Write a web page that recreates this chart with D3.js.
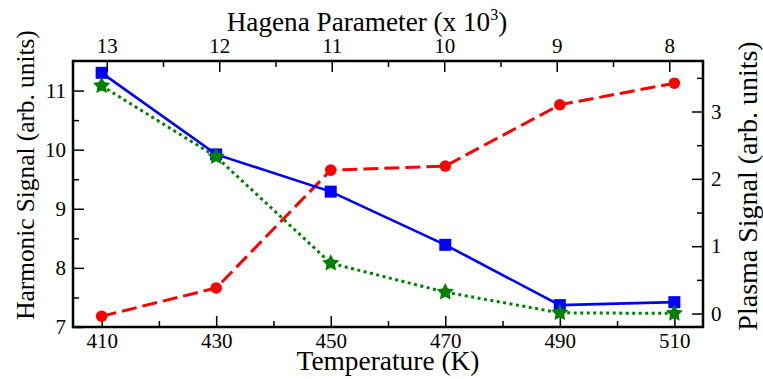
<!DOCTYPE html>
<html>
<head>
<meta charset="utf-8">
<script src="https://cdn.jsdelivr.net/npm/d3@7"></script>
<style>
  html, body { margin: 0; padding: 0; background: #fff; }
  svg { display: block; }
</style>
</head>
<body>
<script>
// ---- data ----
const temperatures = [410, 430, 450, 470, 490, 510];
const hagenaTicks = [13, 12, 11, 10, 9, 8];
const harmonicBlue = [11.30, 9.92, 9.29, 8.39, 7.37, 7.42];
const harmonicGreen = [11.08, 9.88, 8.08, 7.59, 7.24, 7.23];
const plasmaRed = [-0.04, 0.38, 2.13, 2.19, 3.10, 3.42];
const leftTicks = [7, 8, 9, 10, 11];
const rightTicks = [0, 1, 2, 3];
const xTitle = "Temperature (K)";
const topTitle = "Hagena Parameter (x 10";
const leftTitle = "Harmonic Signal (arb. units)";
const rightTitle = "Plasma Signal (arb. units)";

const FONT = "Liberation Serif";
const W = 763, H = 379;
const m = { left: 73, top: 61 };
const iw = 703 - m.left, ih = 327 - m.top;

const svg = d3.select("body").append("svg").attr("width", W).attr("height", H)
  .attr("font-family", FONT);
const g = svg.append("g").attr("transform", `translate(${m.left},${m.top})`);

const x = d3.scaleLinear().domain([405, 515]).range([0, iw]);
const xTop = d3.scaleLinear().domain([13.3, 7.7]).range([0, iw]);
const yL = d3.scaleLinear().domain([7, 11.5]).range([ih, 0]);
const yR = d3.scaleLinear().domain([-0.2, 3.75]).range([ih, 0]);

const FS_TICK = 21;

function styleAxis(sel, labels) {
  sel.attr("font-family", FONT).attr("font-size", FS_TICK);
  sel.select(".domain").remove();
  sel.selectAll(".tick line").attr("stroke", "#000").attr("stroke-width", 1.5);
  sel.selectAll(".tick text").attr("font-size", FS_TICK).attr("font-family", FONT).attr("fill", "#000");
  if (!labels) sel.selectAll(".tick text").remove();
}

// bottom
g.append("g").attr("transform", `translate(0,${ih})`)
  .call(d3.axisBottom(x).tickValues(temperatures).tickSize(-11).tickPadding(6).tickFormat(d3.format("d")))
  .call(s => styleAxis(s, true));
g.append("g").attr("transform", `translate(0,${ih})`)
  .call(d3.axisBottom(x).tickValues([420, 440, 460, 480, 500]).tickSize(-6))
  .call(s => styleAxis(s, false));
// top
g.append("g")
  .call(d3.axisTop(xTop).tickValues(hagenaTicks).tickSize(-11).tickPadding(8).tickFormat(d3.format("d")))
  .call(s => styleAxis(s, true));
g.append("g")
  .call(d3.axisTop(xTop).tickValues([12.5, 11.5, 10.5, 9.5, 8.5]).tickSize(-6))
  .call(s => styleAxis(s, false));
// left
g.append("g")
  .call(d3.axisLeft(yL).tickValues(leftTicks).tickSize(-11).tickPadding(7).tickFormat(d3.format("d")))
  .call(s => styleAxis(s, true));
g.append("g")
  .call(d3.axisLeft(yL).tickValues([7.5, 8.5, 9.5, 10.5]).tickSize(-6))
  .call(s => styleAxis(s, false));
// right
g.append("g").attr("transform", `translate(${iw},0)`)
  .call(d3.axisRight(yR).tickValues(rightTicks).tickSize(-11).tickPadding(8).tickFormat(d3.format("d")))
  .call(s => styleAxis(s, true));
g.append("g").attr("transform", `translate(${iw},0)`)
  .call(d3.axisRight(yR).tickValues([0.5, 1.5, 2.5, 3.5]).tickSize(-6))
  .call(s => styleAxis(s, false));

// frame
g.append("rect").attr("width", iw).attr("height", ih)
  .attr("fill", "none").attr("stroke", "#000").attr("stroke-width", 2.5);

// lines
const lineL = d3.line().x((d, i) => x(temperatures[i])).y(d => yL(d));
const lineR = d3.line().x((d, i) => x(temperatures[i])).y(d => yR(d));

g.append("path").datum(plasmaRed).attr("d", lineR)
  .attr("fill", "none").attr("stroke", "#ff0000").attr("stroke-width", 3).attr("stroke-dasharray", "15,6");
g.append("path").datum(harmonicGreen).attr("d", lineL)
  .attr("fill", "none").attr("stroke", "#008000").attr("stroke-width", 3).attr("stroke-dasharray", "3,3.5");
g.append("path").datum(harmonicBlue).attr("d", lineL)
  .attr("fill", "none").attr("stroke", "#0000ff").attr("stroke-width", 2.6);

// markers
g.selectAll(".red").data(plasmaRed).join("circle")
  .attr("cx", (d, i) => x(temperatures[i])).attr("cy", d => yR(d))
  .attr("r", 5.8).attr("fill", "#ff0000");

g.selectAll(".blue").data(harmonicBlue).join("rect")
  .attr("x", (d, i) => x(temperatures[i]) - 6).attr("y", d => yL(d) - 6)
  .attr("width", 12).attr("height", 12).attr("fill", "#0000ff");

function starPath(R, r) {
  const pts = [];
  for (let k = 0; k < 10; k++) {
    const a = -Math.PI / 2 + k * Math.PI / 5;
    const rr = k % 2 === 0 ? R : r;
    pts.push([rr * Math.cos(a), rr * Math.sin(a)]);
  }
  return "M" + pts.map(p => p[0].toFixed(2) + "," + p[1].toFixed(2)).join("L") + "Z";
}
g.selectAll(".green").data(harmonicGreen).join("path")
  .attr("transform", (d, i) => `translate(${x(temperatures[i])},${yL(d)})`)
  .attr("d", starPath(9, 4.6)).attr("fill", "#008000");

// titles
svg.append("text").attr("x", 388).attr("y", 370).attr("font-family", FONT)
  .attr("text-anchor", "middle").attr("font-size", 27.4).text(xTitle);

const tt = svg.append("text").attr("x", 367).attr("y", 31).attr("font-family", FONT)
  .attr("text-anchor", "middle").attr("font-size", 27.2);
tt.append("tspan").text(topTitle);
tt.append("tspan").attr("font-size", 16).attr("dy", -11).text("3");
tt.append("tspan").attr("dy", 11).text(")");

svg.append("text").attr("transform", `translate(34,175) rotate(-90)`).attr("font-family", FONT)
  .attr("text-anchor", "middle").attr("font-size", 25.3).text(leftTitle);
svg.append("text").attr("transform", `translate(757,186) rotate(-90)`).attr("font-family", FONT)
  .attr("text-anchor", "middle").attr("font-size", 28).text(rightTitle);
</script>
</body>
</html>
